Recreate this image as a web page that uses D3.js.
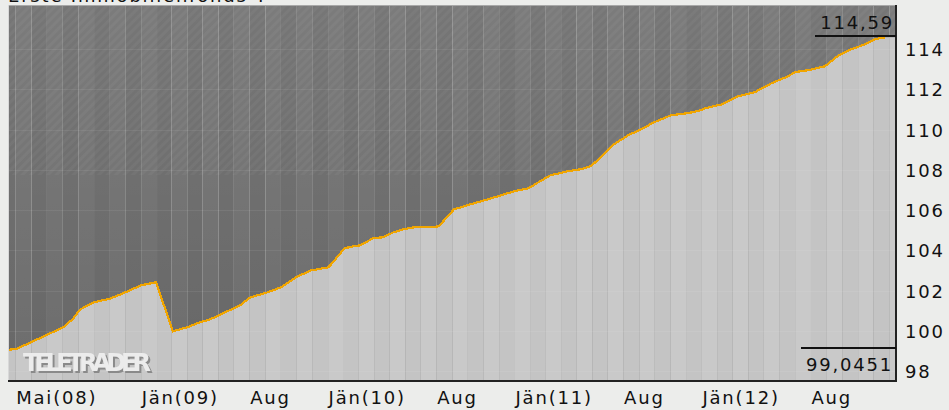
<!DOCTYPE html>
<html>
<head>
<meta charset="utf-8">
<script src="https://cdn.jsdelivr.net/npm/d3@7"></script>
<style>
  body { margin: 0; background: #ecedeb; }
  svg { display: block; }
  text { font-family: "DejaVu Sans", Verdana, sans-serif; font-size: 18px; fill: #111; letter-spacing: 1.8px; }
</style>
</head>
<body>
<div id="chart"></div>
<script>
// fund price
var dates = ["2008-04-16","2008-05-03","2008-08-02","2008-08-20","2008-09-04","2008-10-01","2008-11-03","2008-12-01",
  "2009-01-01","2009-01-30","2009-03-04","2009-04-01","2009-04-26","2009-05-16","2009-07-13","2009-08-02","2009-09-05",
  "2009-10-01","2009-11-03","2009-11-29","2010-01-01","2010-01-07","2010-02-02","2010-02-20","2010-03-05","2010-03-30",
  "2010-04-19","2010-05-09","2010-05-28","2010-06-17","2010-07-14","2010-08-05","2010-09-04","2010-09-24","2010-10-13",
  "2010-11-10","2010-12-05","2010-12-31","2011-01-27","2011-02-22","2011-03-11","2011-04-14","2011-05-09","2011-05-29",
  "2011-06-18","2011-07-13","2011-08-10","2011-09-04","2011-09-30","2011-11-02","2011-12-05","2011-12-31","2012-01-06",
  "2012-02-09","2012-03-12","2012-04-13","2012-05-16","2012-06-18","2012-06-30","2012-07-27","2012-08-28","2012-09-24",
  "2012-10-14","2012-11-15","2012-12-04","2012-12-23"];
var prices = [99.05,99.1,100.17,100.57,101.06,101.41,101.61,101.91,
  102.26,102.41,99.97,100.17,100.42,100.57,101.26,101.66,101.91,
  102.16,102.71,103.0,103.15,103.3,104.1,104.2,104.25,104.6,
  104.65,104.9,105.04,105.14,105.14,105.19,106.04,106.19,106.34,
  106.54,106.74,106.94,107.08,107.48,107.73,107.93,108.03,108.18,
  108.63,109.27,109.72,110.02,110.37,110.72,110.82,110.97,111.06,
  111.26,111.66,111.86,112.31,112.66,112.86,112.96,113.15,113.7,
  113.95,114.25,114.5,114.59];

var yTicks = [98,100,102,104,106,108,110,112,114];
var xTickDates = ["2008-05-01","2009-01-01","2009-08-01","2010-01-01","2010-08-01","2011-01-01","2011-08-01","2012-01-01","2012-08-01"];
var xTickLabels = ["Mai(08)","Jän(09)","Aug","Jän(10)","Aug","Jän(11)","Aug","Jän(12)","Aug"];
var maxLabel = "114,59";
var minLabel = "99,0451";
var title = "Erste Immobilienfonds T";

(function() {
  var W = 949, H = 410;
  var pl = 8, pr = 896, pt = 5, pb = 381;
  var parse = d3.timeParse("%Y-%m-%d");

  var data = dates.map(function(d, i) { return {date: parse(d), value: prices[i]}; });

  var x = d3.scaleTime().domain([parse("2008-04-16"), parse("2013-01-14")]).range([pl, pr]);
  var y = d3.scaleLinear().domain([97.5, 116.2]).range([pb, pt]);

  var svg = d3.select("#chart").append("svg").attr("width", W).attr("height", H);
  var defs = svg.append("defs");

  defs.append("clipPath").attr("id", "plot")
    .append("rect").attr("x", pl).attr("y", pt).attr("width", pr - pl).attr("height", pb - pt);

  var area = d3.area().x(function(d) { return x(d.date); }).y0(pb).y1(function(d) { return y(d.value); });
  var areaData = data.concat([{date: x.invert(pr), value: prices[prices.length - 1]}]);

  defs.append("clipPath").attr("id", "under").append("path").attr("d", area(areaData));

  var grad = defs.append("linearGradient").attr("id", "shade").attr("x1", 0).attr("y1", 0).attr("x2", 0).attr("y2", 1);
  grad.append("stop").attr("offset", "0%").attr("stop-color", "#fff").attr("stop-opacity", 0.1);
  grad.append("stop").attr("offset", "100%").attr("stop-color", "#fff").attr("stop-opacity", 0);

  var hatch = defs.append("pattern").attr("id", "hatch").attr("width", 6).attr("height", 6)
    .attr("patternUnits", "userSpaceOnUse").attr("patternTransform", "rotate(45)");
  hatch.append("rect").attr("width", 3).attr("height", 6).attr("fill", "#fff").attr("opacity", 0.035);

  var shadow = defs.append("filter").attr("id", "logoShadow");
  shadow.append("feDropShadow").attr("dx", 2).attr("dy", 2).attr("stdDeviation", 0)
    .attr("flood-color", "#8a8a8a").attr("flood-opacity", 1);

  // title, mostly above the window
  svg.append("text").attr("x", 8).attr("y", 2).text(title);

  var plot = svg.append("g").attr("clip-path", "url(#plot)");

  var months = d3.timeMonth.range(d3.timeMonth.floor(x.domain()[0]), x.domain()[1]);
  months.push(d3.timeMonth.offset(months[months.length - 1], 1));
  var bandW = function(d) { return x(d3.timeMonth.offset(d, 1)) - x(d); };

  plot.selectAll("rect.dark").data(months).join("rect")
    .attr("class", "dark")
    .attr("x", function(d) { return x(d); })
    .attr("y", pt)
    .attr("width", bandW)
    .attr("height", pb - pt)
    .attr("fill", function(d, i) { return i % 2 ? "#6d6d6d" : "#676767"; });

  plot.append("rect").attr("x", pl).attr("y", pt).attr("width", pr - pl).attr("height", pb - pt)
    .attr("fill", "url(#shade)");
  plot.append("rect").attr("x", pl).attr("y", pt).attr("width", pr - pl).attr("height", 170)
    .attr("fill", "url(#hatch)");

  var under = plot.append("g").attr("clip-path", "url(#under)");
  under.selectAll("rect").data(months).join("rect")
    .attr("x", function(d) { return x(d); })
    .attr("y", pt)
    .attr("width", bandW)
    .attr("height", pb - pt)
    .attr("fill", function(d, i) { return i % 2 ? "#c9c9c9" : "#c4c4c4"; });

  plot.selectAll("line.grid").data(yTicks).join("line")
    .attr("class", "grid")
    .attr("x1", pl).attr("x2", pr)
    .attr("y1", function(d) { return Math.round(y(d)) + 0.5; })
    .attr("y2", function(d) { return Math.round(y(d)) + 0.5; })
    .attr("stroke", "#fff").attr("stroke-opacity", 0.07);

  var line = d3.line().x(function(d) { return x(d.date); }).y(function(d) { return y(d.value); });
  plot.append("path").datum(data)
    .attr("d", line)
    .attr("fill", "none")
    .attr("stroke", "#f0a500")
    .attr("stroke-width", 2.2)
    .attr("shape-rendering", "crispEdges");

  // logo
  svg.append("text").attr("x", 23).attr("y", 371).attr("textLength", 128)
    .attr("filter", "url(#logoShadow)")
    .style("font-size", "24px").style("font-weight", "bold").style("fill", "#ececec").style("letter-spacing", "0px")
    .text("TELETRADER");

  // borders
  svg.append("line").attr("x1", pl).attr("x2", pr).attr("y1", pt + 0.5).attr("y2", pt + 0.5).attr("stroke", "#a8a8a8");
  svg.append("line").attr("x1", pl + 0.5).attr("x2", pl + 0.5).attr("y1", pt).attr("y2", pb).attr("stroke", "#d8d8d8");
  svg.append("line").attr("x1", pl).attr("x2", pr + 1).attr("y1", pb).attr("y2", pb).attr("stroke", "#222").attr("stroke-width", 2);
  svg.append("line").attr("x1", pr).attr("x2", pr).attr("y1", pt).attr("y2", pb + 1).attr("stroke", "#222").attr("stroke-width", 2);

  // max / min boxes
  svg.append("line").attr("x1", 815).attr("x2", pr).attr("y1", 36).attr("y2", 36).attr("stroke", "#111").attr("stroke-width", 2);
  svg.append("text").attr("x", 894).attr("y", 29).attr("text-anchor", "end").text(maxLabel);
  svg.append("line").attr("x1", 801).attr("x2", pr).attr("y1", 348).attr("y2", 348).attr("stroke", "#111").attr("stroke-width", 2);
  svg.append("text").attr("x", 893).attr("y", 371).attr("text-anchor", "end").text(minLabel);

  // axes
  var yAxis = d3.axisRight(y).tickValues(yTicks).tickSize(0).tickPadding(0).tickFormat(d3.format("d"));
  var gy = svg.append("g").attr("transform", "translate(905,0)").call(yAxis);
  gy.select(".domain").remove();
  gy.attr("font-size", null).attr("font-family", null);
  gy.selectAll("text").attr("dy", "0.36em").attr("fill", "#111");

  var xAxis = d3.axisBottom(x).tickValues(xTickDates.map(parse)).tickSize(0).tickPadding(0)
    .tickFormat(function(d, i) { return xTickLabels[i]; });
  var gx = svg.append("g").attr("transform", "translate(0,404)").call(xAxis);
  gx.select(".domain").remove();
  gx.attr("font-size", null).attr("font-family", null);
  gx.selectAll("text").attr("text-anchor", "start").attr("y", 0).attr("dy", 0).attr("x", 0).attr("fill", "#111");
})();
</script>
</body>
</html>
